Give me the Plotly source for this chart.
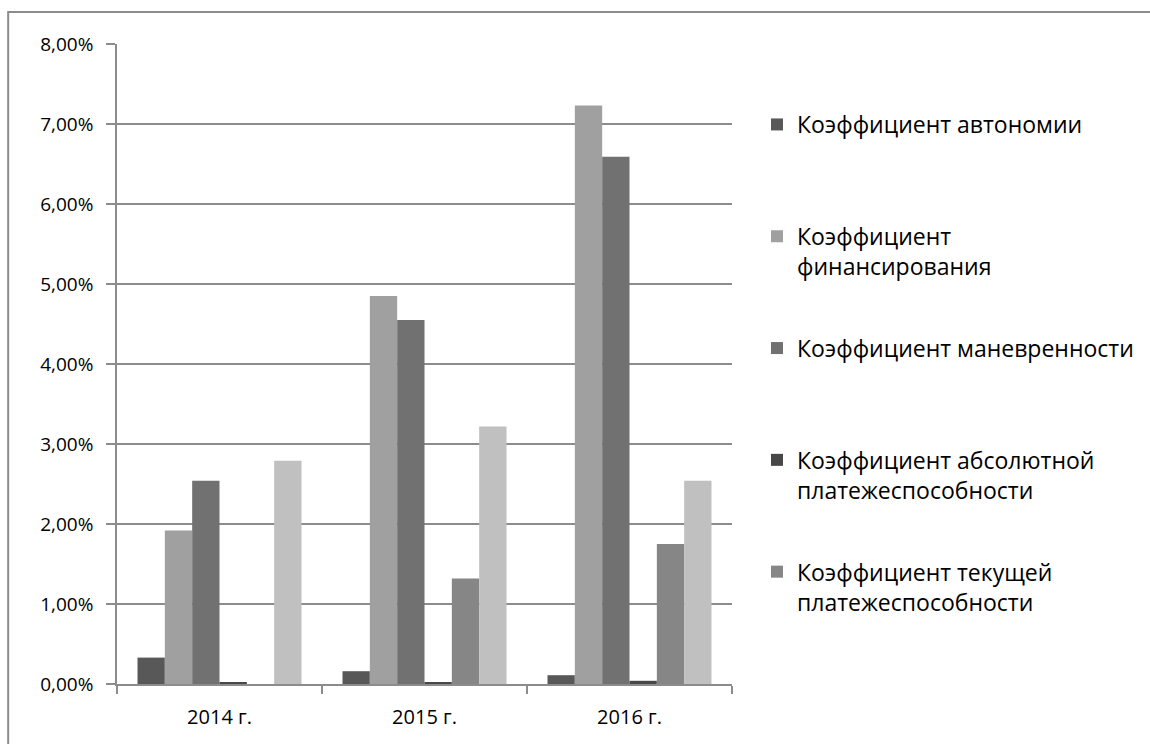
import plotly.graph_objects as go

categories = ["2014 г.", "2015 г.", "2016 г."]

series_names = [
    "Коэффициент автономии<br> ",
    "Коэффициент<br>финансирования",
    "Коэффициент маневренности<br> ",
    "Коэффициент абсолютной<br>платежеспособности",
    "Коэффициент текущей<br>платежеспособности",
    "Ряд 6",
]

avtonomii = [0.33, 0.16, 0.11]
finansirovaniya = [1.92, 4.85, 7.23]
manevrennosti = [2.54, 4.55, 6.59]
absolyutnoy = [0.02, 0.02, 0.04]
tekushchey = [0.0, 1.32, 1.75]
ryad6 = [2.79, 3.22, 2.54]

series_values = [avtonomii, finansirovaniya, manevrennosti, absolyutnoy, tekushchey, ryad6]
series_colors = ["#585858", "#a0a0a0", "#717171", "#474747", "#868686", "#c0c0c0"]
show_in_legend = [True, True, True, True, True, False]

FONT = "Open Sans"
fig = go.Figure()
for i, (name, vals, col, sl) in enumerate(zip(series_names, series_values, series_colors, show_in_legend)):
    fig.add_trace(go.Bar(
        x=categories,
        y=[v / 100 for v in vals],
        name=name,
        marker=dict(color=col, line=dict(width=0)),
        showlegend=sl,
        legendgroup="g%d" % i,
    ))

L, R, T, B = 117, 1150 - 733, 44, 744 - 684
pw = 1150 - L - R
ph = 744 - T - B

fig.update_layout(
    width=1150, height=744,
    margin=dict(l=L, r=R, t=T, b=B, pad=0),
    paper_bgcolor="white", plot_bgcolor="white",
    separators=", ",
    barmode="group", bargap=0.2, bargroupgap=0,
    font=dict(family=FONT, size=19, color="#000000"),
    legend=dict(
        x=(757 - L) / pw, xanchor="left",
        y=(684 - 103) / ph, yanchor="top",
        valign="top",
        tracegroupgap=49,
        font=dict(family=FONT, size=23, color="#000000"),
        bgcolor="rgba(0,0,0,0)",
        itemclick=False,
    ),
    xaxis=dict(
        type="category",
        showline=True, linecolor="#8c8c8c", linewidth=1.5,
        ticks="outside", tickson="boundaries", ticklen=8, tickcolor="#8c8c8c", tickwidth=1.5,
        showgrid=False, zeroline=False,
        tickfont=dict(family=FONT, size=20, color="#000000"),
        ticklabelstandoff=14,
        fixedrange=True,
    ),
    yaxis=dict(
        range=[0, 0.08], dtick=0.01, tickformat=".2%",
        showline=True, linecolor="#8c8c8c", linewidth=1.5,
        ticks="outside", ticklen=9, tickcolor="#8c8c8c", tickwidth=1.5,
        showgrid=True, gridcolor="#8c8c8c", gridwidth=1.5,
        zeroline=False,
        tickfont=dict(family=FONT, size=19, color="#000000"),
        ticklabelstandoff=9,
        fixedrange=True,
    ),
    shapes=[dict(
        type="rect", xref="paper", yref="paper",
        x0=(8 - L) / pw, x1=(1160 - L) / pw,
        y0=(684 - 770) / ph, y1=(684 - 12) / ph,
        line=dict(color="#8c8c8c", width=2), fillcolor="rgba(0,0,0,0)", layer="below",
    )],
)

fig.write_html("out.html", config={"displayModeBar": False},
               post_script="document.body.style.margin='0';")
